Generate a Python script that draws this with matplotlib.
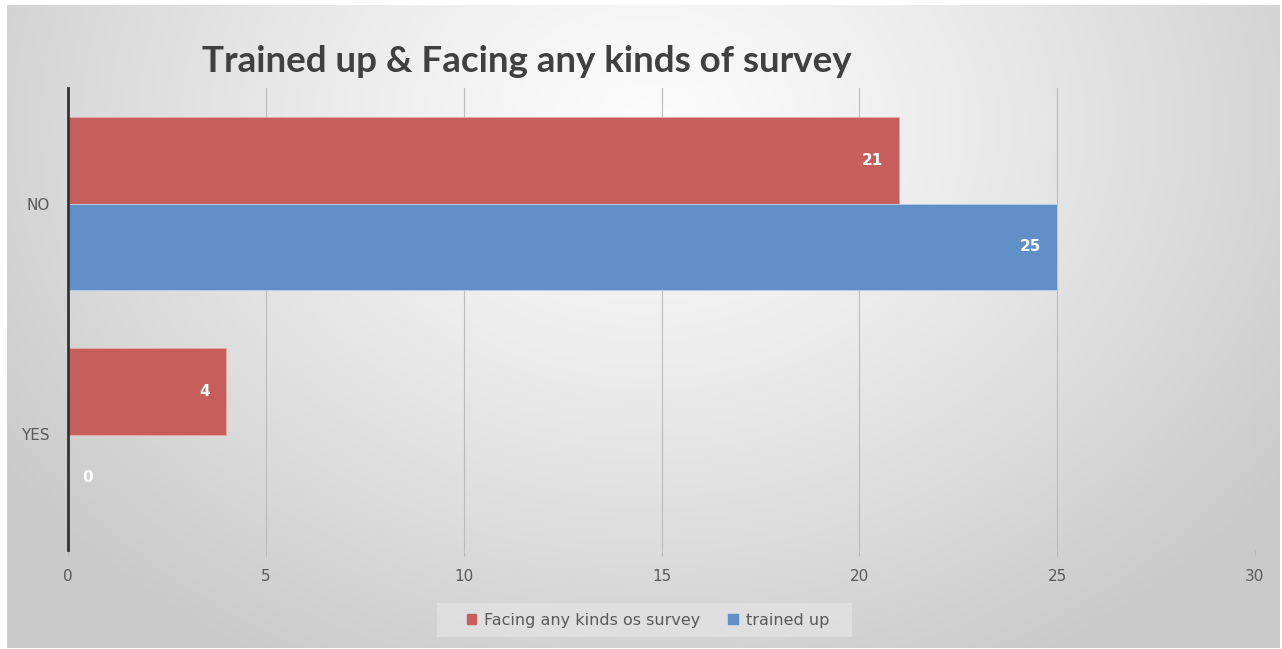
# horizontal grouped bars: trained up vs facing any kinds of survey

import matplotlib
matplotlib.use("Agg")
import matplotlib.pyplot as plt
import numpy as np
from matplotlib.patches import Patch, Rectangle
from matplotlib.transforms import offset_copy

categories = ["YES", "NO"]
facing = [4, 21]
trained = [0, 25]
xticks = [0, 5, 10, 15, 20, 25, 30]

red = "#C65F5B"
blue = "#5F8FC6"
txt = "#595959"

fig = plt.figure(figsize=(12.82, 6.49), dpi=100)
fig.patch.set_facecolor("white")

# radial grey background like the office chart export
bg = fig.add_axes([7/1282, 1/649, 1273/1282, 643/649])
h, w = 643, 1273
yy, xx = np.mgrid[0:h, 0:w]
d = np.sqrt(((xx - 640) / 780.0) ** 2 + ((yy - 120) / 620.0) ** 2)
val = (252 - 50 * np.clip(d, 0, 1) ** 1.2) / 255.0
img = np.dstack([val, val, val])
bg.imshow(img, aspect="auto", extent=[0, 1, 0, 1])
bg.set_axis_off()
bg.set_zorder(-5)

ax = fig.add_axes([68/1282, 1 - 550/649, (1255-68)/1282, (550-88)/649])
ax.set_facecolor("none")

y = np.arange(len(categories))
bh = 0.375
ax.barh(y + bh/2, facing, height=bh, color=red, edgecolor="#E9A9A7", linewidth=0.6, zorder=3)
ax.barh(y - bh/2, trained, height=bh, color=blue, edgecolor="#B9CFEA", linewidth=0.6, zorder=3)

ax.set_xlim(0, 30)
ax.set_ylim(-0.5, 1.5)
ax.set_xticks(xticks)
ax.set_yticks(y)
ax.set_yticklabels(categories)
ax.grid(axis="x", color="#BBBBBB", linewidth=0.8, zorder=0)
ax.tick_params(axis="x", length=4, color="#BBBBBB", labelsize=11, labelcolor=txt, pad=10)
ax.tick_params(axis="y", length=0, labelsize=11, labelcolor=txt, pad=13)
for s in ["top", "right", "bottom"]:
    ax.spines[s].set_visible(False)
ax.spines["left"].set_color("#333333")
ax.spines["left"].set_linewidth(2)
ax.spines["left"].set_zorder(4)

# value labels, inside end
for vals, off in [(facing, bh/2), (trained, -bh/2)]:
    for yi, v in zip(y, vals):
        if v > 0:
            tr = offset_copy(ax.transData, fig=fig, x=-16, y=0, units="dots")
            ax.text(v, yi + off, str(v), transform=tr, ha="right", va="center",
                    color="white", fontsize=11, fontweight="bold", zorder=5)
        else:
            tr = offset_copy(ax.transData, fig=fig, x=14, y=0, units="dots")
            ax.text(v, yi + off, str(v), transform=tr, ha="left", va="center",
                    color="white", fontsize=11, fontweight="bold", zorder=5)

fig.text(527/1282, 1 - 61/649, "Trained up & Facing any kinds of survey", ha="center", va="center",
         fontsize=26.5, fontweight="bold", color="#404040", family="Lato")

# legend box drawn separately for the wide padding
fig.patches.append(Rectangle((437/1282, 1 - 637/649), (852-437)/1282, 34/649,
                             transform=fig.transFigure, facecolor="#E2E2E2", alpha=0.8,
                             edgecolor="none", zorder=1))
handles = [Patch(color=red, label="Facing any kinds os survey"),
           Patch(color=blue, label="trained up")]
leg = fig.legend(handles=handles, loc="center", bbox_to_anchor=(648/1282, 1 - 620/649), ncol=2,
                 fontsize=11.5, frameon=False, handlelength=0.6, handleheight=0.6,
                 handletextpad=0.5, columnspacing=1.75)
for t in leg.get_texts():
    t.set_color(txt)

fig.savefig("out.png", dpi=100)
